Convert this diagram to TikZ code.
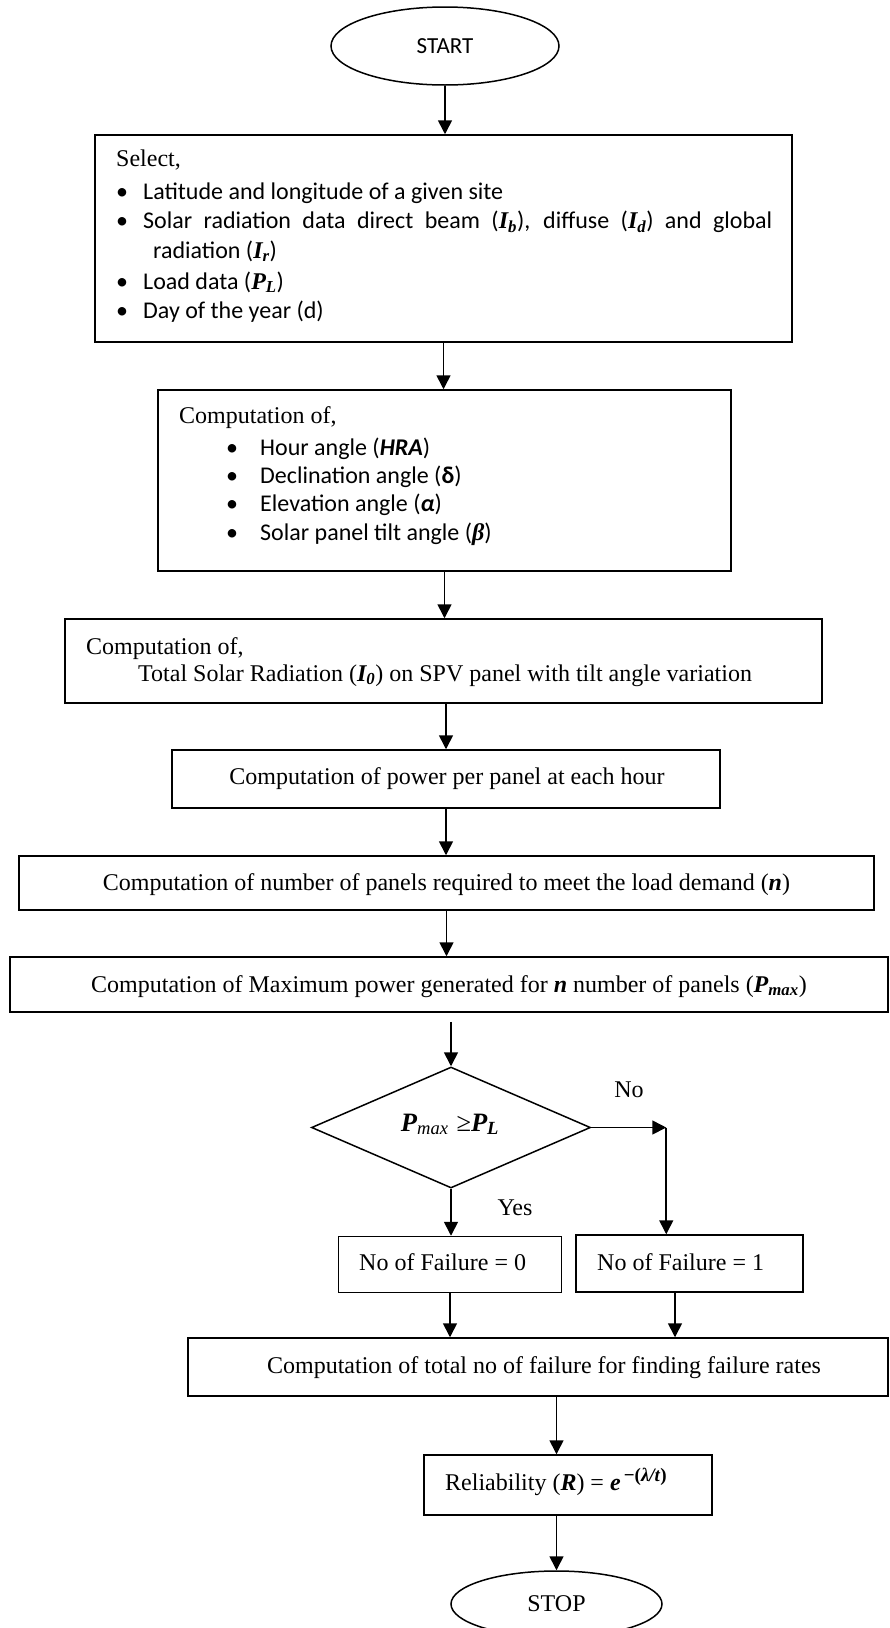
\documentclass[tikz,border=0pt]{standalone}
\usepackage{fontspec}
\setmainfont{Liberation Serif}
\newfontfamily\calibri{Carlito}
\usepackage{tikz}
\usetikzlibrary{arrows.meta,positioning,shapes.geometric}
\tikzset{
  box/.style={draw,rectangle,line width=1.5pt,inner sep=0pt},
  oval/.style={draw,ellipse,line width=1.5pt,inner sep=0pt},
  txt/.style={inner sep=0pt,anchor=base west,font=\fontsize{24}{28}\selectfont},
  ctr/.style={inner sep=0pt,anchor=base,font=\fontsize{24}{28}\selectfont},
  ctxt/.style={inner sep=0pt,anchor=base west,font=\calibri\fontsize{24}{29}\selectfont},
  blt/.style={inner sep=0pt,anchor=base,font=\calibri\fontsize{24}{29}\selectfont},
  flow/.style={-{Triangle[length=14pt,width=14pt]},line width=1.6pt}
}
\newcommand{\bi}[1]{{\rmfamily\bfseries\itshape #1}}

\begin{document}
\begin{tikzpicture}[x=1pt,y=-1pt]
\useasboundingbox (0,0) rectangle (890,1628);
%%the boxes
\path (445,46) node[oval,minimum width=228pt,minimum height=78pt,font=\calibri\fontsize{23}{28}\selectfont] (start) {START};
\path (443.5,238.5) node[box,minimum width=697pt,minimum height=207pt] (select) {};
\path (444.5,480.5) node[box,minimum width=573pt,minimum height=181pt] (angles) {};
\path (443.5,661) node[box,minimum width=757pt,minimum height=84pt] (radiation) {};
\path (446,779) node[box,minimum width=548pt,minimum height=58pt] (power) {};
\path (446.5,883) node[box,minimum width=855pt,minimum height=54pt] (number) {};
\path (449,984.5) node[box,minimum width=878pt,minimum height=55pt] (pmax) {};
\path (451,1127.5) node[draw,diamond,line width=1.5pt,inner sep=0pt,minimum width=279pt,minimum height=121pt] (check) {};
\path (450,1264.5) node[box,minimum width=223pt,minimum height=56pt] (fail0) {};
\path (689.5,1263.5) node[box,minimum width=227pt,minimum height=57pt] (fail1) {};
\path (538,1367) node[box,minimum width=700pt,minimum height=58pt] (total) {};
\path (568,1485) node[box,minimum width=288pt,minimum height=60pt] (reliab) {};
\path (556.5,1604) node[oval,minimum width=211pt,minimum height=66pt,font=\fontsize{24}{28}\selectfont] (stop) {STOP};
%%text of the first box
\path (116,166) node[txt] (sel0) {Select,};
\foreach \y/\n in {199/1,228.5/2,289/4,318/5}
  \path (122,\y) node[blt] (selb\n) {•};
\path (143,199) node[ctxt] (sel1) {Latitude and longitude of a given site}
  (143,228.5) node[ctxt] (sel2) {\makebox[629pt][s]{Solar radiation data direct beam (\bi{I}\textsubscript{\bi{b}}), diffuse (\bi{I}\textsubscript{\bi{d}}) and global}}
  (153,258) node[ctxt] (sel3) {radiation (\bi{I}\textsubscript{\bi{r}})}
  (143,289) node[ctxt] (sel4) {Load data (\bi{P}\textsubscript{\bi{L}})}
  (143,318) node[ctxt] (sel5) {Day of the year (d)};
%%text of the second box
\path (179,423) node[txt] (ang0) {Computation of,};
\foreach \y/\n in {455/1,483/2,511/3,540/4}
  \path (232,\y) node[blt] (angb\n) {•};
\path (260,455) node[ctxt] (ang1) {Hour angle ({\bfseries\itshape HRA})}
  (260,483) node[ctxt] (ang2) {Declination angle ({\bfseries δ})}
  (260,511) node[ctxt] (ang3) {Elevation angle ({\bfseries\itshape α})}
  (260,540) node[ctxt] (ang4) {Solar panel tilt angle (\bi{β})};
%%the other texts
\path (86,654) node[txt] (rad0) {Computation of,}
  (138,681) node[txt] (rad1) {Total Solar Radiation (\bi{I}\textsubscript{\bi{0}}) on SPV panel with tilt angle variation}
  (447,784) node[ctr] (powt) {Computation of power per panel at each hour}
  (446.5,890) node[ctr] (numt) {Computation of number of panels required to meet the load demand (\bi{n})}
  (449,992) node[ctr] (pmaxt) {Computation of Maximum power generated for \bi{n} number of panels (\bi{P}\textsubscript{\bi{max}})}
  (450,1131) node[ctr,font=\fontsize{26.5}{30}\selectfont] (checkt) {\bi{P}\textsubscript{\textit{max}}\hspace{8pt}≥\bi{P}\textsubscript{\bi{L}}}
  (629,1097) node[ctr] (no) {No}
  (515,1215) node[ctr] (yes) {Yes}
  (359,1270) node[txt] (fail0t) {No of Failure = 0}
  (597,1270) node[txt] (fail1t) {No of Failure = 1}
  (544,1373) node[ctr] (totalt) {Computation of total no of failure for finding failure rates}
  (445,1490) node[txt] (reliabt) {Reliability (\bi{R}) = \bi{e}\raisebox{9pt}{\fontsize{19}{19}\selectfont\bfseries\,−(\textit{λ/t})}};
%%the arrows
\path (check.east) ++(75,0) coordinate (turn);
\path (pmax.south -| check.north) ++(0,9) coordinate (pmaxout);
\path (fail1.south) ++(-14.5,0) coordinate (f1out);
\draw[flow] (start.south) -- (start.south |- select.north);
\draw[flow] (select.south) -- (select.south |- angles.north);
\draw[flow] (angles.south) -- (angles.south |- radiation.north);
\draw[flow] (power.north |- radiation.south) -- (power.north);
\draw[flow] (power.south) -- (power.south |- number.north);
\draw[flow] (number.south) -- (number.south |- pmax.north);
\draw[flow] (pmaxout) -- (check.north);
\draw[flow] (check.east) -- (turn);
\draw[flow] (turn) -- (turn |- fail1.north);
\draw[flow] (check.south) -- (check.south |- fail0.north);
\draw[flow] (fail0.south) -- (fail0.south |- total.north);
\draw[flow] (f1out) -- (f1out |- total.north);
\draw[flow] (stop.north |- total.south) -- (stop.north |- reliab.north);
\draw[flow] (stop.north |- reliab.south) -- (stop.north);
\end{tikzpicture}
\end{document}
